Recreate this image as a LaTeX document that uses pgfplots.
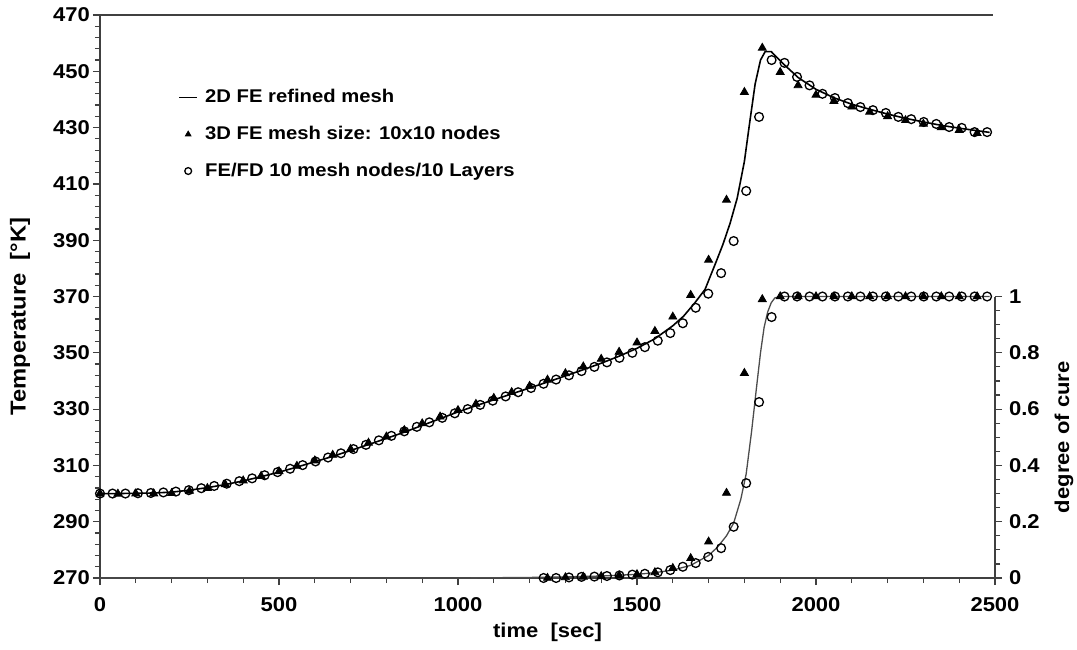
\documentclass[border=0pt]{standalone}
\usepackage{fontspec}
\setmainfont{Liberation Sans}[FakeStretch=1.1]
\usepackage{pgfplots}
\usepackage{pgfplotstable}
\pgfplotsset{compat=1.18}

% 2D FE refined mesh: temperature [K] against time [s]
\pgfplotstableread{
t T
0 300.0
50 300.0
100 300.1
150 300.2
200 300.5
250 301.2
300 302.1
350 303.2
400 304.5
450 306.0
500 307.6
550 309.4
600 311.3
650 313.2
700 315.3
750 317.4
800 319.6
850 321.8
900 324.2
950 326.6
1000 329.0
1050 331.2
1100 333.3
1150 335.4
1200 337.5
1250 339.6
1300 341.8
1350 344.0
1400 346.3
1450 348.8
1500 351.6
1550 355.0
1600 359.6
1630 363.0
1660 367.5
1690 372.5
1720 382.0
1740 388.5
1760 396.0
1780 405.0
1800 418.0
1815 432.0
1830 445.5
1845 454.0
1858 457.0
1875 457.0
1890 455.0
1910 452.5
1950 447.8
2000 443.6
2050 440.6
2100 438.3
2150 436.5
2200 434.8
2250 433.3
2300 432.0
2350 430.8
2400 429.8
2450 428.9
2485 428.3
}\lineT

% 3D FE, 10x10 nodes: temperature
\pgfplotstableread{
t T
0 300.0
50 299.9
100 300.0
150 300.0
200 300.1
250 300.9
300 301.9
350 303.2
400 304.6
450 306.2
500 307.9
550 309.8
600 311.7
650 313.7
700 315.8
750 318.0
800 320.2
850 322.5
900 324.9
950 327.3
1000 329.6
1050 331.8
1100 333.9
1150 336.0
1200 338.2
1250 340.4
1300 342.7
1350 345.1
1400 347.8
1450 350.3
1500 353.6
1550 357.7
1600 362.8
1650 370.5
1700 383.0
1750 404.3
1800 442.6
1850 458.3
1900 449.7
1950 445.0
2000 441.6
2050 439.4
2100 437.4
2150 435.6
2200 434.0
2250 432.6
2300 431.3
2350 430.1
2400 429.1
2450 428.0
}\triT

% FE/FD, 10 mesh nodes / 10 layers: temperature
\pgfplotstableread{
t T
0 300.0
35 300.0
71 300.0
106 300.1
142 300.2
177 300.4
212 300.7
248 301.2
283 301.9
319 302.7
354 303.5
389 304.4
425 305.4
460 306.5
496 307.6
531 308.8
566 310.1
602 311.4
637 312.8
673 314.3
708 315.8
743 317.3
779 318.9
814 320.5
850 322.1
885 323.7
920 325.3
956 326.9
991 328.5
1027 330.0
1062 331.5
1097 333.0
1133 334.5
1168 336.0
1204 337.5
1239 339.0
1274 340.5
1310 342.0
1345 343.5
1381 345.0
1416 346.6
1451 348.2
1487 350.0
1522 352.0
1558 354.3
1593 357.0
1628 360.5
1664 366.0
1699 371.0
1735 378.3
1770 389.7
1805 407.5
1841 433.8
1876 454.0
1912 453.0
1947 448.0
1982 445.0
2018 442.0
2053 440.5
2089 438.7
2124 437.3
2159 436.2
2195 435.2
2230 433.8
2266 433.0
2301 432.0
2336 431.3
2372 430.2
2407 429.9
2443 428.4
2478 428.4
}\cirT

% degree of cure, 2D FE refined mesh
\pgfplotstableread{
t a
0 0
1000 0
1200 0.002
1300 0.004
1400 0.007
1500 0.013
1550 0.019
1600 0.028
1650 0.045
1700 0.080
1725 0.110
1750 0.150
1770 0.195
1790 0.280
1805 0.370
1820 0.520
1835 0.690
1845 0.800
1855 0.890
1865 0.945
1875 0.978
1885 0.995
1900 1.0
2485 1.0
}\lineA

% degree of cure, 3D FE
\pgfplotstableread{
t a
1250 0.0
1300 0.002
1350 0.004
1400 0.006
1450 0.009
1500 0.013
1550 0.020
1600 0.035
1650 0.070
1700 0.129
1750 0.302
1800 0.728
1850 0.990
1900 1.0
1950 1.0
2000 1.0
2050 1.0
2100 1.0
2150 1.0
2200 1.0
2250 1.0
2300 1.0
2350 1.0
2400 1.0
2450 1.0
}\triA

% degree of cure, FE/FD
\pgfplotstableread{
t a
1239 0.0
1274 0.0
1310 0.002
1345 0.004
1381 0.005
1416 0.007
1451 0.009
1487 0.012
1522 0.015
1558 0.020
1593 0.028
1628 0.040
1664 0.053
1699 0.075
1735 0.106
1770 0.182
1805 0.337
1841 0.625
1876 0.927
1912 1.0
1947 1.0
1982 1.0
2018 1.0
2053 1.0
2089 1.0
2124 1.0
2159 1.0
2195 1.0
2230 1.0
2266 1.0
2301 1.0
2336 1.0
2372 1.0
2407 1.0
2443 1.0
2478 1.0
}\cirA

\newcommand{\lblfont}{\bfseries\fontsize{10}{12}\selectfont}
\newcommand{\legfont}{\bfseries\fontsize{9.2}{11}\selectfont}

\pgfplotsset{
  common/.style={
    scale only axis, width=447.5pt, at={(0,0)}, anchor=south west,
    xmin=0, xmax=2500, clip=false,
    /pgf/number format/assume math mode=true,
    /pgf/number format/1000 sep={},
    scaled ticks=false,
    ticklabel style={font=\lblfont},
    label style={font=\lblfont},
    tick align=outside,
    axis line style={black!75, line width=0.8pt},
    tick style={black!75, line width=0.6pt},
    major tick length=3.5pt, minor tick length=2.5pt,
  },
  tri/.style={only marks, mark=triangle*, mark size=2.3pt, mark options={fill=black, draw=black}},
  cir/.style={only marks, mark=o, mark size=2.2pt, mark options={draw=black, line width=0.65pt}},
  legline/.style={legend image code/.code={\draw[##1] (0pt,0pt) -- (9pt,0pt); \path[draw=none] (0pt,0pt) -- (11pt,0pt);}},
  legmark/.style={legend image code/.code={\draw[##1, mark size=#1] plot coordinates {(4.5pt,0pt)}; \path[draw=none] (0pt,0pt) -- (11pt,0pt);}},
}

\begin{document}
\begin{tikzpicture}
\useasboundingbox (-50pt,-35.5pt) rectangle (488.5pt,289pt);

% temperature
\begin{axis}[common,
  height=281.5pt,
  ymin=270, ymax=470,
  axis x line*=bottom, axis y line*=left,
  xtick={0,500,1000,1500,2000,2500},
  ytick={270,290,310,330,350,370,390,410,430,450,470},
  minor x tick num=4, minor y tick num=4,
  xticklabel style={yshift=-2.5pt},
  yticklabel style={xshift=2pt},
  xlabel={time\ \ [sec]},
  ylabel={Temperature\ \ [°K]},
  xlabel style={at={([yshift=-27pt]axis description cs:0.5,0)}, anchor=center},
  ylabel style={at={([xshift=-40pt,yshift=-10pt]axis description cs:0,0.5)}, anchor=center, font=\bfseries\fontsize{10.8}{12}\selectfont},
  legend style={draw=none, fill=none, font=\legfont,
    at={([xshift=36pt,yshift=-33pt]axis description cs:0,1)}, anchor=north west,
    row sep=6.2pt, cells={anchor=west}},
]
\draw[black!75, line width=0.8pt] (rel axis cs:0,1) -- (rel axis cs:0.998,1);
\addplot[black, line width=0.8pt, legline] table {\lineT};
\addlegendentry{2D FE refined mesh}
\addplot[tri, legmark=1.6pt] table {\triT};
\addlegendentry{3D FE mesh size: 10x10 nodes}
\addplot[cir, legmark=1.7pt] table {\cirT};
\addlegendentry{FE/FD 10 mesh nodes/10 Layers}
\end{axis}

% degree of cure
\begin{axis}[common,
  height=140.75pt,
  ymin=0, ymax=1,
  axis x line=none, axis y line*=right,
  ytick={0,0.2,0.4,0.6,0.8,1},
  yticklabels={0,0.2,0.4,0.6,0.8,1},
  minor y tick num=3,
  ylabel={degree of cure},
  ylabel style={at={([xshift=34.5pt]axis description cs:1,0.5)}, anchor=center},
]
\addplot[black!70, line width=0.65pt] table {\lineA};
\addplot[tri] table {\triA};
\addplot[cir] table {\cirA};
\end{axis}
\end{tikzpicture}
\end{document}
